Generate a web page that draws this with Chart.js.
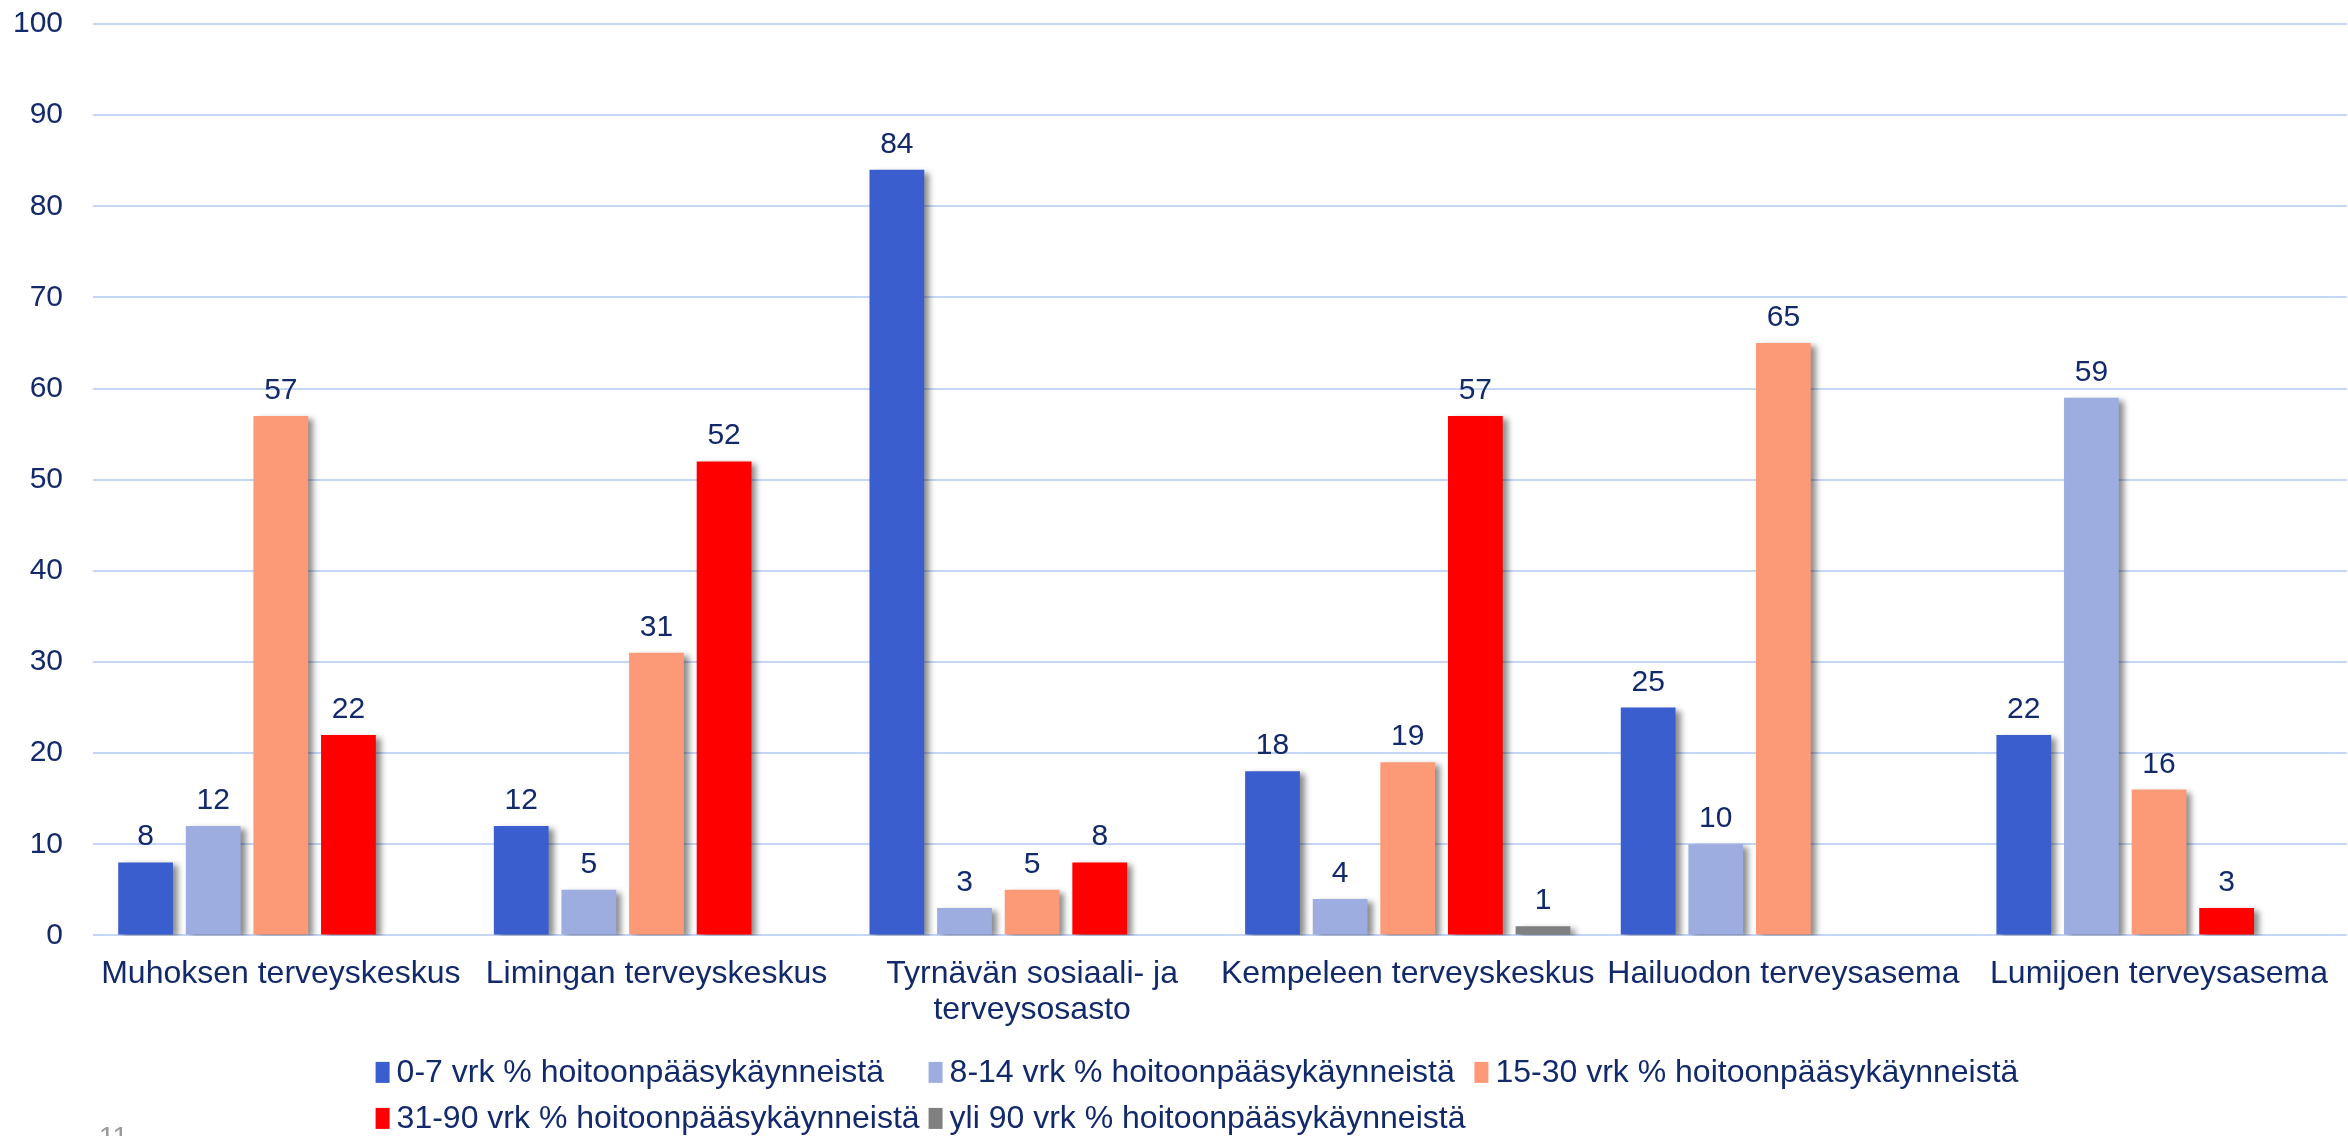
<!DOCTYPE html>
<html>
<head>
<meta charset="utf-8">
<script src="https://cdn.jsdelivr.net/npm/chart.js@4.4.0/dist/chart.umd.min.js"></script>
<style>
  html, body { margin: 0; padding: 0; background: #fff; }
  canvas { display: block; }
</style>
</head>
<body>
<canvas id="bar-chart" width="2348" height="1136"></canvas>
<script>
const categories = [
  "Muhoksen terveyskeskus",
  "Limingan terveyskeskus",
  ["Tyrnävän sosiaali- ja", "terveysosasto"],
  "Kempeleen terveyskeskus",
  "Hailuodon terveysasema",
  "Lumijoen terveysasema",
];
const seriesNames = [
  "0-7 vrk % hoitoonpääsykäynneistä",
  "8-14 vrk % hoitoonpääsykäynneistä",
  "15-30 vrk % hoitoonpääsykäynneistä",
  "31-90 vrk % hoitoonpääsykäynneistä",
  "yli 90 vrk % hoitoonpääsykäynneistä",
];
const days0to7 = [8, 12, 84, 18, 25, 22];
const days8to14 = [12, 5, 3, 4, 10, 59];
const days15to30 = [57, 31, 5, 19, 65, 16];
const days31to90 = [22, 52, 8, 57, null, 3];
const over90 = [null, null, null, 1, null, null];
const yMin = 0;
const yMax = 100;
const yStep = 10;
const pageNumber = "11";

const seriesColors = ["#3a5ecd", "#9dade0", "#fc9a78", "#ff0000", "#808080"];
const textColor = "#12296c";
const gridColor = "#c6d6f6";
const fontFamily = "'Liberation Sans', Arial, sans-serif";

// drop shadow under each bar
const barShadow = {
  id: "barShadow",
  beforeDatasetDraw(chart) {
    const ctx = chart.ctx;
    ctx.save();
    ctx.shadowColor = "rgba(0, 0, 0, 0.45)";
    ctx.shadowBlur = 6;
    ctx.shadowOffsetX = 5;
    ctx.shadowOffsetY = 3;
  },
  afterDatasetDraw(chart) {
    chart.ctx.restore();
  },
};

// numbers above the bars
const valueLabels = {
  id: "valueLabels",
  afterDatasetsDraw(chart) {
    const ctx = chart.ctx;
    ctx.save();
    ctx.font = "30px " + fontFamily;
    ctx.fillStyle = textColor;
    ctx.textAlign = "center";
    ctx.textBaseline = "alphabetic";
    chart.data.datasets.forEach((ds, i) => {
      const meta = chart.getDatasetMeta(i);
      meta.data.forEach((bar, j) => {
        const v = ds.data[j];
        if (v == null) return;
        ctx.fillText(String(v), bar.x, bar.y - 17);
      });
    });
    ctx.restore();
  },
};

// legend laid out in columns, like the original slide
const gridLegend = {
  id: "gridLegend",
  afterDraw(chart) {
    const ctx = chart.ctx;
    const cols = 3;
    const boxW = 14;
    const boxH = 21;
    const boxGap = 7;
    const colGap = 9;
    const rowH = 46;
    ctx.save();
    ctx.font = "32px " + fontFamily;
    const items = chart.data.datasets.map((ds) => ({
      text: ds.label,
      color: ds.backgroundColor,
    }));
    const widths = [];
    items.forEach((it, i) => {
      const c = i % cols;
      const w = boxW + boxGap + ctx.measureText(it.text).width;
      widths[c] = Math.max(widths[c] || 0, w);
    });
    const total = widths.reduce((a, b) => a + b, 0) + colGap * (cols - 1);
    const left = chart.width / 2 + 23 - total / 2;
    const firstRow = chart.chartArea.bottom + 137;
    ctx.textBaseline = "middle";
    ctx.textAlign = "left";
    items.forEach((it, i) => {
      const c = i % cols;
      const r = Math.floor(i / cols);
      let x = left;
      for (let k = 0; k < c; k++) x += widths[k] + colGap;
      const y = firstRow + r * rowH;
      ctx.fillStyle = it.color;
      ctx.fillRect(x, y - boxH / 2, boxW, boxH);
      ctx.fillStyle = textColor;
      ctx.fillText(it.text, x + boxW + boxGap, y + 1);
    });

    ctx.font = "28px " + fontFamily;
    ctx.fillStyle = "#9a9a9a";
    ctx.textBaseline = "top";
    ctx.fillText(pageNumber, 99, chart.height - 12);
    ctx.restore();
  },
};

const seriesData = [days0to7, days8to14, days15to30, days31to90, over90];

new Chart(document.getElementById("bar-chart"), {
  type: "bar",
  data: {
    labels: categories,
    datasets: seriesData.map((d, i) => ({
      label: seriesNames[i],
      data: d,
      backgroundColor: seriesColors[i],
      borderWidth: 0,
      barPercentage: 0.81,
      categoryPercentage: 0.9,
    })),
  },
  options: {
    responsive: false,
    animation: false,
    devicePixelRatio: 1,
    layout: {
      autoPadding: false,
      // the plot runs a little past the right edge of the slide
      padding: { left: 15, top: 24, right: -11, bottom: 87 },
    },
    plugins: {
      legend: { display: false },
      tooltip: { enabled: false },
    },
    scales: {
      x: {
        grid: { display: false, drawTicks: false },
        border: { display: false },
        ticks: {
          color: textColor,
          font: { family: fontFamily, size: 32, lineHeight: 1.15 },
          padding: 20,
          maxRotation: 0,
          autoSkip: false,
        },
      },
      y: {
        min: yMin,
        max: yMax,
        grid: { color: gridColor, lineWidth: 2, drawTicks: false },
        border: { display: false },
        ticks: {
          stepSize: yStep,
          color: textColor,
          font: { family: fontFamily, size: 30 },
          padding: 30,
        },
        afterFit(scale) {
          // keep the axis narrow and the top gridline near the edge
          scale.width = 78;
          scale.paddingTop = 0;
          scale.paddingBottom = 0;
        },
      },
    },
  },
  plugins: [barShadow, valueLabels, gridLegend],
});
</script>
</body>
</html>
